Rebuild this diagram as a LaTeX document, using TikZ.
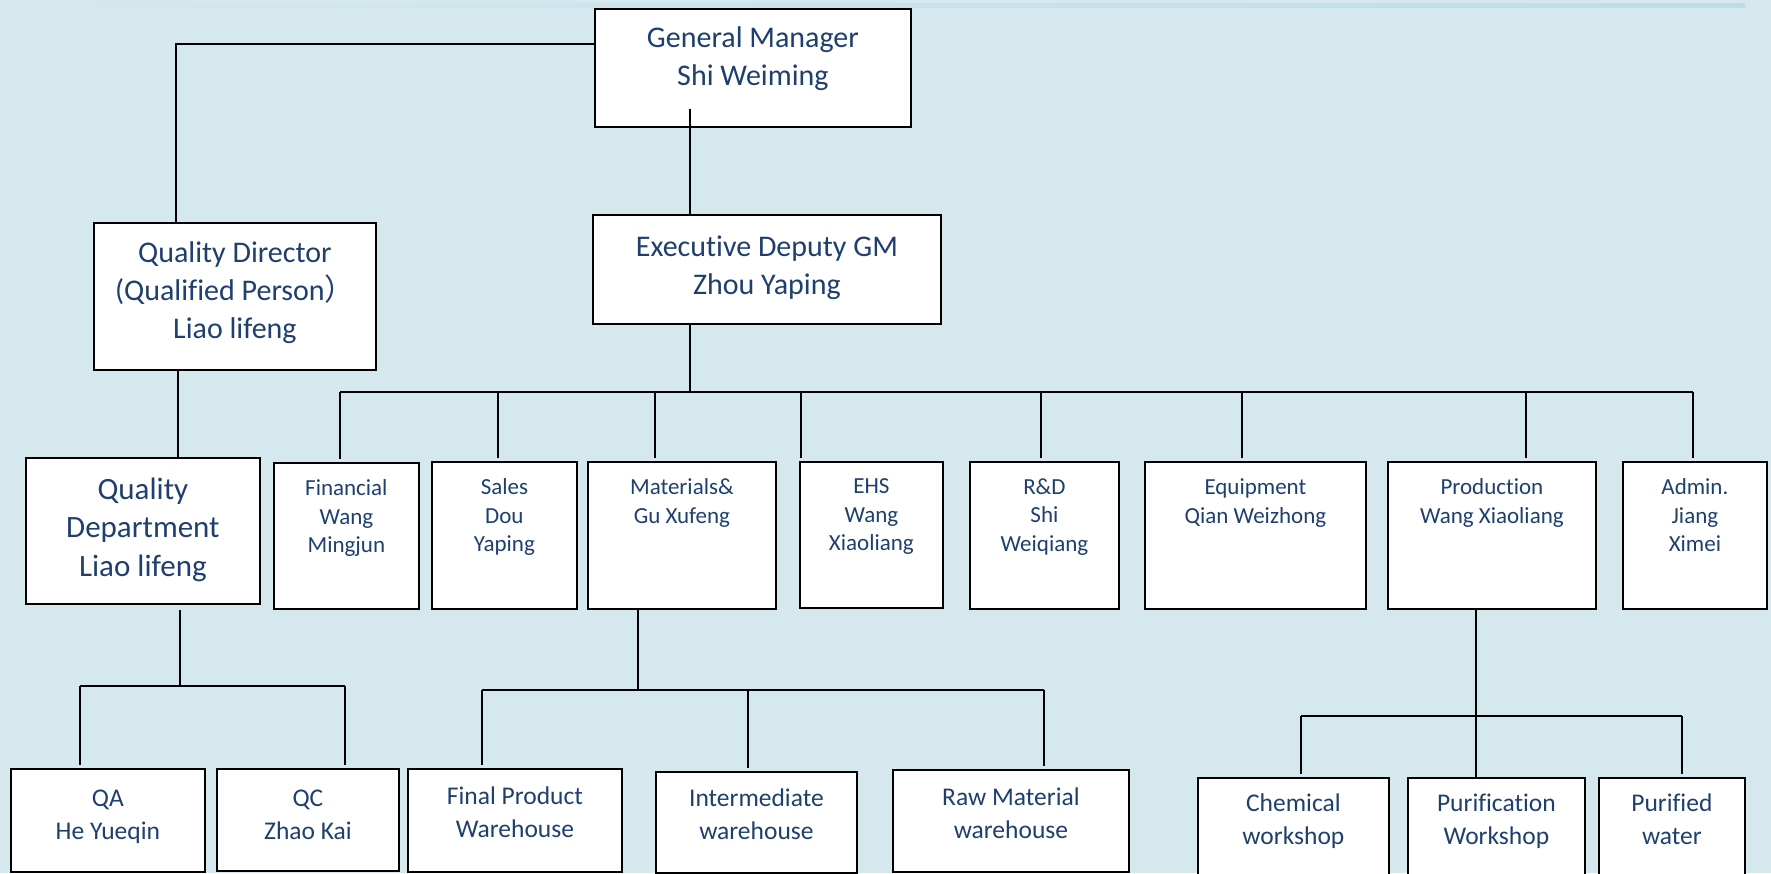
\documentclass[tikz,border=0pt]{standalone}
\usepackage{fontspec}
\setmainfont{Carlito}[Ligatures=NoCommon]
\newfontfamily\cjk{Noto Sans CJK SC}
\usetikzlibrary{positioning}
\definecolor{bgblue}{RGB}{213,232,238}
\definecolor{bandblue}{RGB}{172,214,226}
\definecolor{navy}{RGB}{31,63,110}

\begin{document}
\begin{tikzpicture}[x=1pt,y=-1pt,line width=1.5pt]
    \tikzstyle{unit}=[draw=black, fill=white, line width=1.8pt, inner sep=0pt, anchor=north west]
    \tikzstyle{who}=[anchor=north, align=center, inner sep=0pt, text=navy]
    \tikzstyle{bigtxt}=[who, font=\fontsize{30}{38}\selectfont]
    \tikzstyle{midtxt}=[who, font=\fontsize{23}{28.5}\selectfont, yshift=-17pt]
    \tikzstyle{lowtxt}=[who, font=\fontsize{25.5}{33}\selectfont]

    \clip (0,0) rectangle (1771,873);
    \fill[bgblue] (0,0) rectangle (1771,873);
    \shade[left color=bgblue, middle color=bandblue, right color=bandblue!60!bgblue] (15,3) rectangle (1745,7);

%   top levels
    \node[unit, minimum width=316pt, minimum height=118pt, label={[bigtxt, yshift=-18pt]north:General Manager\\Shi Weiming}] (gm) at (594,8) {};
    \node[unit, minimum width=348pt, minimum height=109pt, label={[bigtxt, yshift=-21pt]north:Executive Deputy GM\\Zhou Yaping}] (ed) at (592,214) {};
    \node[unit, minimum width=282pt, minimum height=147pt, label={[bigtxt, yshift=-19pt]north:Quality Director\\(Qualified Person{\cjk ）}\\Liao lifeng}] (qd) at (93,222) {};

%   departments
    \node[unit, minimum width=234pt, minimum height=146pt, label={[bigtxt, font=\fontsize{31}{38.5}\selectfont, yshift=-20pt]north:Quality\\Department\\Liao lifeng}] (qdep) at (25,457) {};
    \node[unit, minimum width=145pt, minimum height=146pt, label={[midtxt]north:Financial\\Wang\\Mingjun}] (fin) at (273,462) {};
    \node[unit, minimum width=145pt, minimum height=147pt, label={[midtxt]north:Sales\\Dou\\Yaping}] (sales) at (431,461) {};
    \node[unit, minimum width=188pt, minimum height=147pt, label={[midtxt]north:Materials\&\\Gu Xufeng}] (mat) at (587,461) {};
    \node[unit, minimum width=143pt, minimum height=146pt, label={[midtxt]north:EHS\\Wang\\Xiaoliang}] (ehs) at (799,461) {};
    \node[unit, minimum width=149pt, minimum height=147pt, label={[midtxt]north:R\&D\\Shi\\Weiqiang}] (rd) at (969,461) {};
    \node[unit, minimum width=221pt, minimum height=147pt, label={[midtxt]north:Equipment\\Qian Weizhong}] (equip) at (1144,461) {};
    \node[unit, minimum width=208pt, minimum height=147pt, label={[midtxt]north:Production\\Wang Xiaoliang}] (prod) at (1387,461) {};
    \node[unit, minimum width=144pt, minimum height=147pt, label={[midtxt]north:Admin.\\Jiang\\Ximei}] (admin) at (1622,461) {};

%   sections
    \node[unit, minimum width=194pt, minimum height=103pt, label={[lowtxt, yshift=-21pt]north:QA\\He Yueqin}] (qa) at (10,768) {};
    \node[unit, minimum width=182pt, minimum height=102pt, label={[lowtxt, yshift=-21pt]north:QC\\Zhao Kai}] (qc) at (216,768) {};
    \node[unit, minimum width=214pt, minimum height=103pt, label={[lowtxt, yshift=-18pt]north:Final Product\\Warehouse}] (final) at (407,768) {};
    \node[unit, minimum width=201pt, minimum height=101pt, label={[lowtxt, yshift=-17pt]north:Intermediate\\warehouse}] (inter) at (655,771) {};
    \node[unit, minimum width=236pt, minimum height=102pt, label={[lowtxt, yshift=-18pt]north:Raw Material\\warehouse}] (raw) at (892,769) {};
    \node[unit, minimum width=191pt, minimum height=110pt, label={[lowtxt, yshift=-16pt]north:Chemical\\workshop}] (chem) at (1197,777) {};
    \node[unit, minimum width=177pt, minimum height=110pt, label={[lowtxt, yshift=-16pt]north:Purification\\Workshop}] (purif) at (1407,777) {};
    \node[unit, minimum width=146pt, minimum height=110pt, label={[lowtxt, yshift=-16pt]north:Purified\\water}] (water) at (1598,777) {};

%   trunks
    \coordinate (trunk) at (690,392);
    \coordinate (qtrunk) at (180,686);
    \coordinate (mtrunk) at (638,690);
    \draw ([yshift=19pt]gm.south -| trunk) -- (ed.north -| trunk);
    \draw (gm.west |- 0,44) -| (qd.north -| 176,0);
    \draw (ed.south -| trunk) -- (trunk);
    \draw (qd.south -| 178,0) -- (qdep.north -| 178,0);
    \draw ([yshift=-5pt]qdep.south -| qtrunk) -- (qtrunk);
    \draw (mat.south -| mtrunk) -- (mtrunk);
    \draw (prod.south -| 1476,0) -- (purif.north -| 1476,0);

%   drops
    \foreach \n/\x/\y in {fin/340/392, sales/498/392, mat/655/392, ehs/801/392, rd/1041/392, equip/1242/392, prod/1526/392, admin/1693/392,
                          qa/80/686, qc/345/686, final/482/690, inter/748/690, raw/1044/690, chem/1301/716, water/1682/716}{
        \coordinate (j-\n) at (\x,\y);
        \draw (j-\n) -- ([yshift=3pt]j-\n |- \n.north);
    }
    \draw (j-fin) -- (j-admin);
    \draw (j-qa) -- (j-qc);
    \draw (j-final) -- (j-raw);
    \draw (j-chem) -- (j-water);
\end{tikzpicture}
\end{document}
